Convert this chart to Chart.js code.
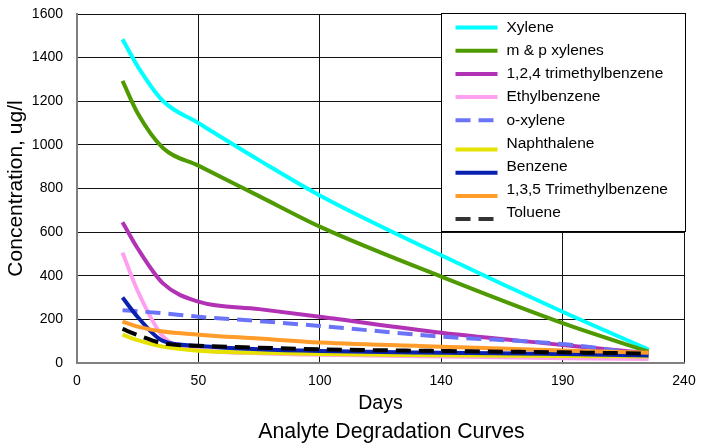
<!DOCTYPE html>
<html>
<head>
<meta charset="utf-8">
<script src="https://cdn.jsdelivr.net/npm/chart.js@4"></script>
<style>
  body { margin: 0; background: #fff; }
  #wrap { width: 704px; height: 445px; position: relative; }
</style>
</head>
<body>
<div id="wrap"><canvas id="myChart"></canvas></div>
<script>
const days = [18, 24, 34, 48, 72, 96, 144, 192, 226];

const xylene = [1484, 1360, 1201, 1100, 930, 768, 494, 235, 62];
const mpXylenes = [1293, 1145, 986, 905, 765, 625, 396, 183, 52];
const tmb124 = [645, 525, 365, 281, 247, 212, 139, 83, 45];
const ethylbenzene = [506, 330, 122, 62, 45, 38, 30, 22, 18];
const oXylene = [242, 237, 228, 212, 192, 170, 121, 87, 37];
const naphthalene = [130, 105, 75, 56, 47, 41, 36, 32, 30];
const benzene = [300, 211, 101, 78, 63, 55, 47, 41, 34];
const tmb135 = [190, 167, 144, 130, 112, 94, 75, 57, 47];
const toluene = [156, 128, 90, 79, 70, 63, 55, 49, 43];

const seriesNames = ["Xylene", "m & p xylenes", "1,2,4 trimethylbenzene", "Ethylbenzene",
  "o-xylene", "Naphthalene", "Benzene", "1,3,5 Trimethylbenzene", "Toluene"];
const seriesValues = [xylene, mpXylenes, tmb124, ethylbenzene, oXylene, naphthalene, benzene, tmb135, toluene];
const seriesColors = ["#00ffff", "#4f9a00", "#b132b4", "#ff9ff0", "#6b74f8", "#e6e200", "#0a20b0", "#ff9c2a", "#000000"];
const seriesDashed = [false, false, false, false, true, false, false, false, true];

const yTicks = [0, 200, 400, 600, 800, 1000, 1200, 1400, 1600];
const chartTitle = "Analyte Degradation Curves";

Chart.defaults.font.family = '"Liberation Sans", Arial, sans-serif';
Chart.defaults.color = "#000";

const datasets = seriesNames.map((name, i) => ({
  label: name,
  data: days.map((d, j) => ({ x: d, y: seriesValues[i][j] })),
  borderColor: seriesColors[i],
  backgroundColor: seriesColors[i],
  borderWidth: 4,
  borderDash: seriesDashed[i] ? [15, 8] : [],
  pointRadius: 0,
  cubicInterpolationMode: "monotone",
  fill: false,
  order: seriesNames.length - i,
}));

// legend sits inside the plot, top right, like the original; title under the x axis
const legendBox = {
  id: "legendBox",
  afterDraw(chart) {
    const ctx = chart.ctx;
    const area = chart.chartArea;
    const left = Math.round(chart.scales.x.getPixelForValue(144)) + 0.5;
    const top = Math.round(area.top) - 0.5;
    const right = area.right + 1.5;
    const bottom = top + 218;
    ctx.save();
    ctx.fillStyle = "#fff";
    ctx.fillRect(left, top, right - left, bottom - top);
    ctx.strokeStyle = "#000";
    ctx.lineWidth = 1;
    ctx.strokeRect(left, top, right - left, bottom - top);
    ctx.font = '15.5px "Liberation Sans", Arial, sans-serif';
    ctx.textBaseline = "middle";
    ctx.fillStyle = "#000";
    chart.data.datasets.forEach((ds, i) => {
      const ty = top + 14 + i * 23.2;
      const ly = ty + (i >= 5 ? 6 : 0);
      ctx.strokeStyle = ds.label === "Toluene" ? "#333" : ds.borderColor;
      ctx.lineWidth = 4;
      ctx.setLineDash(ds.borderDash);
      ctx.beginPath();
      ctx.moveTo(left + 14, ly);
      ctx.lineTo(left + 56, ly);
      ctx.stroke();
      ctx.setLineDash([]);
      ctx.fillText(ds.label, left + 65, ty);
    });
    ctx.font = '21.3px "Liberation Sans", Arial, sans-serif';
    ctx.textAlign = "center";
    ctx.fillText(chartTitle, (area.left + area.right) / 2 + 11, 432);
    ctx.restore();
  },
};

new Chart(document.getElementById("myChart"), {
  type: "line",
  data: { datasets },
  plugins: [legendBox],
  options: {
    responsive: true,
    maintainAspectRatio: false,
    animation: false,
    layout: { padding: { left: 0, right: 20, top: 14, bottom: 29 } },
    plugins: {
      legend: { display: false },
      tooltip: { enabled: false },
      title: { display: false },
    },
    scales: {
      x: {
        type: "linear",
        min: 0,
        max: 240,
        afterFit: (s) => { s.height = 53; },
        ticks: {
          stepSize: 48,
          padding: 0,
          font: { size: 14 },
          color: "#000",
          callback: (v) => Math.round(v / 10) * 10,
        },
        grid: { color: "#111", lineWidth: 1, drawTicks: true, tickLength: 10, tickColor: "rgba(0,0,0,0)" },
        border: { color: "#808080", width: 2 },
        title: { display: true, text: "Days", font: { size: 19.5 }, color: "#000", padding: { top: 0, bottom: 1 } },
      },
      y: {
        min: 0,
        max: 1600,
        afterFit: (s) => { s.width = 77; },
        afterBuildTicks: (s) => { s.ticks = yTicks.map((v) => ({ value: v })); },
        ticks: { padding: 0, font: { size: 14 }, color: "#000", callback: (v) => String(v) },
        grid: { color: "#111", lineWidth: 1, drawTicks: true, tickLength: 14, tickColor: "rgba(0,0,0,0)" },
        border: { color: "#808080", width: 2 },
        title: { display: true, text: "Concentration, ug/l", font: { size: 21 }, color: "#000", padding: { top: 4, bottom: 4 } },
      },
    },
  },
});
</script>
</body>
</html>
